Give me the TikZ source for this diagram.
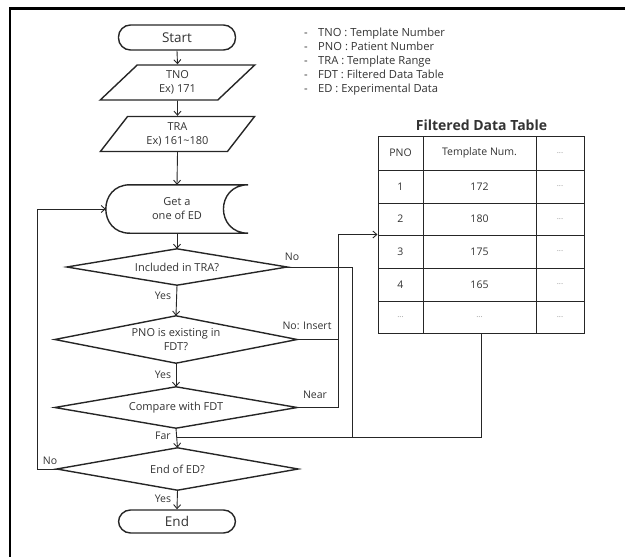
\documentclass[tikz,border=0pt]{standalone}
\usepackage{fontspec}
\setmainfont{Open Sans}
\usetikzlibrary{shapes.geometric,arrows.meta}
\definecolor{txt}{HTML}{333333}
\definecolor{ln}{HTML}{262626}
\definecolor{dots}{HTML}{9A9A9A}
\begin{document}
\begin{tikzpicture}[x=1pt,y=-1pt,
  every node/.style={text=txt, inner sep=0pt, font=\fontsize{10.5}{14}\selectfont},
  shp/.style={draw=ln, line width=1.4pt},
  conn/.style={draw=ln, line width=0.9pt},
  arr/.style={conn, -{Straight Barb[length=4pt,width=7pt]}},
  term/.style={shp, rectangle, rounded corners=12pt, minimum width=117pt, minimum height=25pt, font=\fontsize{13.5}{15}\selectfont},
  io/.style={shp, trapezium, trapezium left angle=54.5, trapezium right angle=125.5, trapezium stretches=true, minimum width=155pt, minimum height=35pt, align=center, font=\fontsize{11}{14}\selectfont},
  box/.style={rectangle, align=center, font=\fontsize{11}{14}\selectfont},
  lbl/.style={font=\fontsize{10.5}{12}\selectfont},
  leg/.style={anchor=base west, font=\fontsize{11.2}{12}\selectfont},
  cell/.style={font=\fontsize{10.5}{12}\selectfont},
  dcell/.style={font=\fontsize{8}{10}\selectfont, text=dots}
]
\useasboundingbox (0,0) rectangle (625,557);
% frame
\draw[line width=2.6pt, black] (10,557) -- (10,8.5) -- (625,8.5);

% flowchart nodes
\node[term] (start) at (177,37.5) {Start};
\node[io] (tno) at (177.5,82.5) {TNO\\Ex) 171};
\node[io] (tra) at (177.5,134) {TRA\\Ex) 161\textasciitilde180};
\node[box, minimum width=142pt, minimum height=48pt] (getd) at (177,209) {Get a\\one of ED};
\draw[shp] ([xshift=24pt]getd.north west) -- (getd.north east)
  .. controls ([xshift=-33pt]getd.north east) and ([xshift=-33pt]getd.south east) .. (getd.south east)
  -- ([xshift=24pt]getd.south west)
  .. controls ([xshift=-8pt]getd.south west) and ([xshift=-8pt]getd.north west) .. ([xshift=24pt]getd.north west) -- cycle;

\node[box, minimum width=220pt, minimum height=36pt] (d1) at (177,267) {Included in TRA?};
\draw[shp] (d1.west) -- (d1.north) -- (d1.east) -- (d1.south) -- cycle;
\node[box, minimum width=242pt, minimum height=47pt] (d2) at (176,339.5) {PNO is existing in\\FDT?};
\draw[shp] (d2.west) -- (d2.north) -- (d2.east) -- (d2.south) -- cycle;
\node[box, minimum width=242pt, minimum height=41pt] (d3) at (176,407.5) {Compare with FDT};
\draw[shp] (d3.west) -- (d3.north) -- (d3.east) -- (d3.south) -- cycle;
\node[box, minimum width=241pt, minimum height=42pt] (d4) at (177.5,469) {End of ED?};
\draw[shp] (d4.west) -- (d4.north) -- (d4.east) -- (d4.south) -- cycle;
\node[term, minimum height=23pt] (end) at (177,521.5) {End};

% helper coordinates
\coordinate (lp) at (37,0);
\coordinate (c338) at (338,0);
\coordinate (c352) at (352,0);
\coordinate (farj) at (177,437);

% legend
\node[leg] (leg1) at (304,36) {\makebox[14pt][l]{-}TNO : Template Number};
\node[leg] (leg2) at (304,50) {\makebox[14pt][l]{-}PNO : Patient Number};
\node[leg] (leg3) at (304,64) {\makebox[14pt][l]{-}TRA : Template Range};
\node[leg] (leg4) at (304,78) {\makebox[14pt][l]{-}FDT : Filtered Data Table};
\node[leg] (leg5) at (304,92) {\makebox[14pt][l]{-}ED : Experimental Data};

% table
\node[font=\bfseries\fontsize{14}{16}\selectfont] (ttl) at (481.5,125) {Filtered Data Table};
\node[draw=ln, line width=1pt, minimum width=206pt, minimum height=197pt] (tbl) at (481,234.5) {};
\draw[draw=ln, line width=1pt] (423,136) -- (423,333) (536,136) -- (536,333)
  (378,170) -- (584,170) (378,203) -- (584,203) (378,235) -- (584,235)
  (378,268) -- (584,268) (378,301) -- (584,301);
\node[cell] (h1) at (400.5,153) {PNO};
\node[cell] (h2) at (479.5,153) {Template Num.};
\node[dcell] (h3) at (560,153) {...};
\node[cell] (r1a) at (400.5,186.5) {1};
\node[cell] (r1b) at (479.5,186.5) {172};
\node[dcell] (r1c) at (560,186.5) {...};
\node[cell] (r2a) at (400.5,219) {2};
\node[cell] (r2b) at (479.5,219) {180};
\node[dcell] (r2c) at (560,219) {...};
\node[cell] (r3a) at (400.5,251.5) {3};
\node[cell] (r3b) at (479.5,251.5) {175};
\node[dcell] (r3c) at (560,251.5) {...};
\node[cell] (r4a) at (400.5,284.5) {4};
\node[cell] (r4b) at (479.5,284.5) {165};
\node[dcell] (r4c) at (560,284.5) {...};
\node[dcell] (r5a) at (400.5,317) {...};
\node[dcell] (r5b) at (479.5,317) {...};
\node[dcell] (r5c) at (560,317) {...};

% connectors
\draw[arr] (start.south) -- (tno.north);
\draw[arr] (tno.south) -- (tra.north);
\draw[arr] (tra.south) -- (getd.north);
\draw[arr] (getd.south) -- (d1.north);
\draw[arr] (d1.south) -- (d2.north);
\draw[arr] (d2.south) -- (d3.north);
\draw[arr] (d3.south) -- (d4.north);
\draw[arr] (d4.south) -- (end.north);
\draw[arr] (d4.west) -- (d4.west -| lp) |- (getd.west);
\draw[conn] (d1.east) -- (d1.east -| c352) |- (farj);
\draw[conn] (d2.east) -- (d2.east -| c338);
\draw[arr] (d3.east) -- (d3.east -| c338) |- (tbl.west);
\draw[conn] (tbl.south) |- (farj);

% labels
\node[lbl] (yes1) at (163,296) {Yes};
\node[lbl] (yes2) at (163,375) {Yes};
\node[lbl] (far) at (163,436) {Far};
\node[lbl] (yes3) at (163,499) {Yes};
\node[lbl] (no4) at (50,461) {No};
\node[lbl] (no1) at (292,257) {No};
\node[lbl] (noins) at (307,326) {No: Insert};
\node[lbl] (near) at (315,395) {Near};
\end{tikzpicture}
\end{document}
